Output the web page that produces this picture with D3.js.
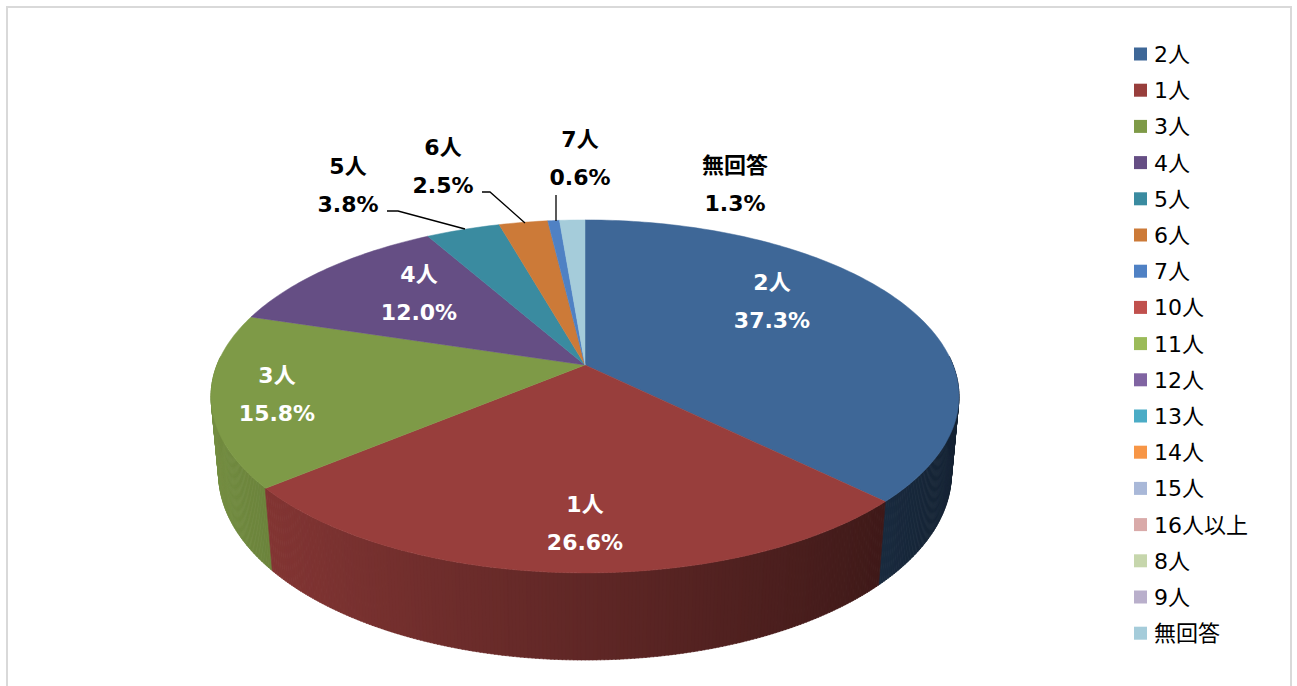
<!DOCTYPE html>
<html>
<head>
<meta charset="utf-8">
<script src="https://cdn.jsdelivr.net/npm/d3@7"></script>
<style>
  html, body { margin: 0; padding: 0; background: #fff; }
  svg { display: block; }
</style>
</head>
<body>
<svg id="chart" width="1297" height="686"></svg>
<script>
// Household size distribution (percent), in legend order
const categories = ["2人", "1人", "3人", "4人", "5人", "6人", "7人", "10人", "11人", "12人", "13人", "14人", "15人", "16人以上", "8人", "9人", "無回答"];
const percents   = [37.3, 26.6, 15.8, 12.0, 3.8, 2.5, 0.6, 0, 0, 0, 0, 0, 0, 0, 0, 0, 1.3];
const colors     = ["#3E6797", "#983E3C", "#7E9A47", "#654E84", "#3A8BA0", "#CC7A38", "#4F81C4",
                    "#C0504D", "#9BBB59", "#8064A2", "#4BACC6", "#F79646", "#A9B8D8", "#D9AAA9",
                    "#C6D6AC", "#B9AFCB", "#A5CCDA"];

// Label placement: centre of the first label line; outside labels are black
const labelPlacement = {
  "2人":  { x: 772, y: 282, outside: false },
  "1人":  { x: 585, y: 504, outside: false },
  "3人":  { x: 277, y: 375, outside: false },
  "4人":  { x: 419, y: 274, outside: false },
  "5人":  { x: 348, y: 166, outside: true, leader: [[387, 211], [398, 211], [465, 229]] },
  "6人":  { x: 443, y: 147, outside: true, leader: [[482, 192], [490, 192], [525, 223]] },
  "7人":  { x: 580, y: 139, outside: true, leader: [[556, 195], [556, 221]] },
  "無回答": { x: 735, y: 165, outside: true, leader: null }
};

const svg = d3.select("#chart");

// Chart frame
svg.append("rect")
  .attr("x", 7).attr("y", 7).attr("width", 1284).attr("height", 700)
  .attr("fill", "#fff").attr("stroke", "#D9D9D9").attr("stroke-width", 2);

// Perspective projection of the pie disc: theta clockwise from 12 o'clock,
// r in [0,1], h = 0 for the top face, 1 for the bottom of the wall.
const cx = 585, cy = 365, A = 368, B = 170.9, C = 77.5, k = 0.178, m = 0.02;
function proj(theta, r, h) {
  const u = r * Math.sin(theta), v = -r * Math.cos(theta);
  const d = 1 - k * v + m * h;
  return [cx + A * u / d, cy + (B * v + C * h) / d];
}

const pie = d3.pie().sort(null).value(d => d.value).startAngle(0).endAngle(2 * Math.PI);
const arcs = pie(categories.map((c, i) => ({ name: c, value: percents[i], color: colors[i] })))
  .filter(a => a.data.value > 0);

// Outer wall, drawn in thin strips from back to front with directional shading
const strips = [];
const step = Math.PI / 360;
arcs.forEach(a => {
  for (let t = a.startAngle; t < a.endAngle - 1e-9; t += step) {
    const t2 = Math.min(t + step, a.endAngle);
    const mid = (t + t2) / 2;
    if (-Math.cos(mid) < -0.05) continue; // back side is hidden
    strips.push({ t1: t, t2: t2, mid: mid, color: a.data.color });
  }
});
strips.sort((p, q) => (-Math.cos(p.mid)) - (-Math.cos(q.mid)));

const wallLayer = svg.append("g");
strips.forEach(s => {
  const f = 0.63 - 0.3 * Math.sin(s.mid);
  const c = d3.rgb(s.color);
  const col = d3.rgb(c.r * f, c.g * f, c.b * f).formatHex();
  const pts = [proj(s.t1, 1, 0), proj(s.t2 + 0.002, 1, 0), proj(s.t2 + 0.002, 1, 1), proj(s.t1, 1, 1)];
  wallLayer.append("path")
    .attr("d", "M" + pts.map(p => p.join(",")).join("L") + "Z")
    .attr("fill", col).attr("stroke", col).attr("stroke-width", 0.6);
});

// Top face slices
const lineGen = d3.line();
const faceLayer = svg.append("g");
arcs.forEach(a => {
  const pts = [proj(0, 0, 0)];
  const n = Math.max(2, Math.ceil((a.endAngle - a.startAngle) / (Math.PI / 180)));
  for (let i = 0; i <= n; i++) {
    const t = a.startAngle + (a.endAngle - a.startAngle) * i / n;
    pts.push(proj(t, 1, 0));
  }
  faceLayer.append("path")
    .attr("d", lineGen(pts) + "Z")
    .attr("fill", a.data.color)
    .attr("stroke", a.data.color).attr("stroke-width", 0.5);
});

// Data labels
const labelFont = "'DejaVu Sans', Verdana, 'Noto Sans CJK JP', sans-serif";
const labelLayer = svg.append("g")
  .attr("font-family", labelFont)
  .attr("font-size", 22).attr("font-weight", "bold")
  .attr("text-anchor", "middle");

arcs.forEach(a => {
  const name = a.data.name;
  const pctText = a.data.value.toFixed(1) + "%";
  const pl = labelPlacement[name];
  const fill = pl.outside ? "#000" : "#fff";
  if (pl.leader) {
    svg.append("path")
      .attr("d", lineGen(pl.leader))
      .attr("fill", "none").attr("stroke", "#000").attr("stroke-width", 1.3);
  }
  labelLayer.append("text").attr("x", pl.x).attr("y", pl.y).attr("dy", "0.35em").attr("fill", fill).text(name);
  labelLayer.append("text").attr("x", pl.x).attr("y", pl.y + 38).attr("dy", "0.35em").attr("fill", fill).text(pctText);
});

// Legend
const legendLayer = svg.append("g")
  .attr("font-family", labelFont)
  .attr("font-size", 22);
categories.forEach((c, i) => {
  const y = 54 + i * 36.2;
  legendLayer.append("rect").attr("x", 1134).attr("y", y - 6.5).attr("width", 13).attr("height", 13).attr("fill", colors[i]);
  legendLayer.append("text").attr("x", 1154).attr("y", y).attr("dy", "0.36em").attr("fill", "#000").text(c);
});
</script>
</body>
</html>
